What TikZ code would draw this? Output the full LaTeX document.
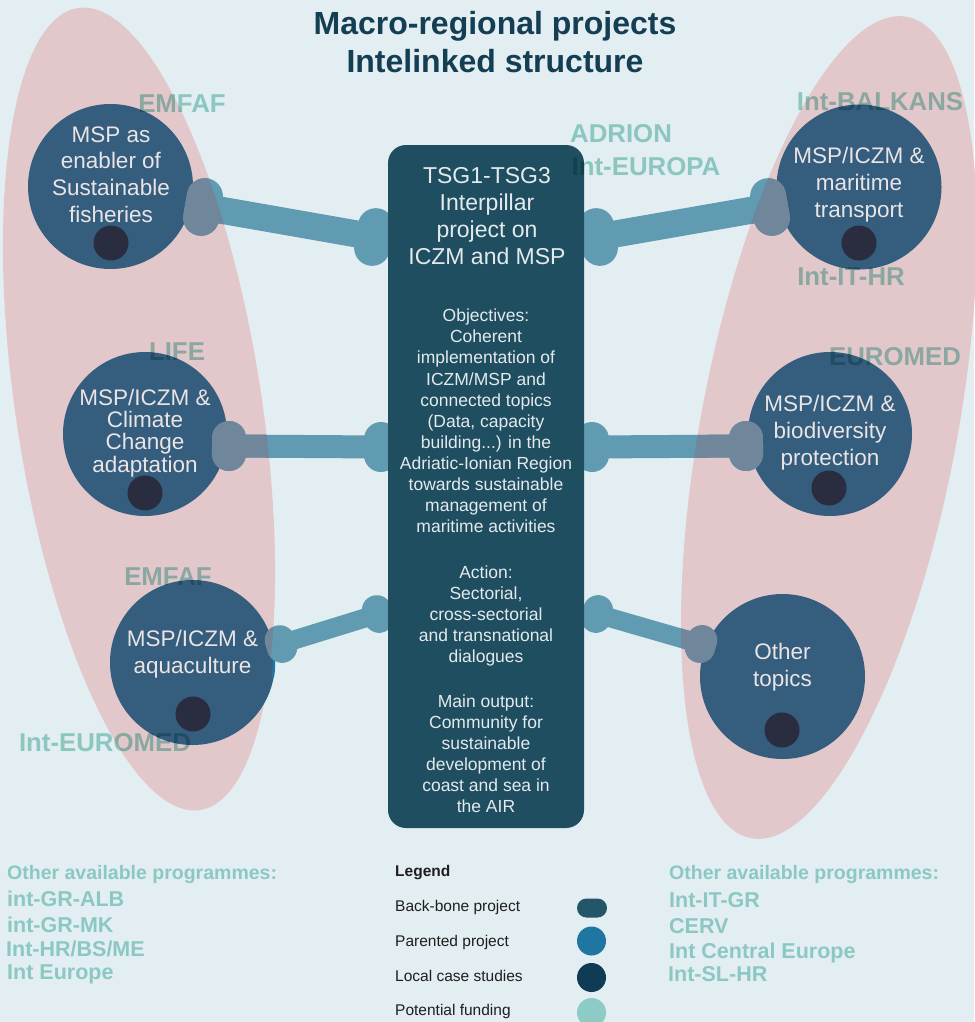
\documentclass[tikz,border=0pt]{standalone}
\usepackage{fontspec}
\setmainfont{Liberation Sans}
\usetikzlibrary{calc}
\definecolor{bg}{HTML}{E2EEF1}
\definecolor{ell}{HTML}{E2C8CB}
\definecolor{boxc}{HTML}{1F4E61}
\definecolor{circ}{HTML}{345D7E}
\definecolor{dotc}{HTML}{2A2C40}
\definecolor{barc}{HTML}{609BB2}
\definecolor{barg}{HTML}{70869A}
\definecolor{lblc}{HTML}{9DD5CB}
\definecolor{lstc}{HTML}{8CC8C3}
\definecolor{titlec}{HTML}{143E53}
\definecolor{ctext}{HTML}{EAE4E4}
\definecolor{btext}{HTML}{E4EAEC}
\definecolor{parc}{HTML}{1F76A0}
\definecolor{locc}{HTML}{0F3B55}
\definecolor{potc}{HTML}{8CCBC6}
\definecolor{bbc}{HTML}{245669}
\definecolor{legc}{HTML}{1E1E1E}
\newcommand\bonebar[6]{%
  \draw[#1, line width=#4] (#2) -- (#3);
  \draw[#1, line width=#5, line cap=round] ($(#2)!#6!90:(#3)$) -- ($(#2)!#6!-90:(#3)$);
  \draw[#1, line width=#5, line cap=round] ($(#3)!#6!90:(#2)$) -- ($(#3)!#6!-90:(#2)$);
}
\newcommand\allbones[1]{%
  \bonebar{#1}{kL1c}{kL1b}{27pt}{36pt}{11pt}
  \bonebar{#1}{kR1c}{kR1b}{27pt}{36pt}{11pt}
  \bonebar{#1}{kL2c}{kL2b}{23pt}{34pt}{8pt}
  \bonebar{#1}{kR2c}{kR2b}{23pt}{34pt}{8pt}
  \bonebar{#1}{kL3c}{kL3b}{19pt}{30pt}{4pt}
  \bonebar{#1}{kR3c}{kR3b}{19pt}{30pt}{4pt}
}
\begin{document}
\begin{tikzpicture}[x=1pt,y=-1pt,
  topic/.style={circle, fill=circ, minimum size=165pt, inner sep=0pt},
  dotn/.style={circle, fill=dotc, minimum size=35pt, inner sep=0pt},
  ctxt/.style={text=ctext, align=center, inner sep=0pt, font=\fontsize{22.5}{27}\selectfont},
  btxt/.style={text=btext, align=center, inner sep=0pt, font=\fontsize{17.5}{21.1}\selectfont},
  lbl/.style={text=lblc, inner sep=0pt, font=\bfseries\fontsize{25.8}{30}\selectfont},
  lst/.style={text=lstc, inner sep=0pt, anchor=base west, font=\bfseries\fontsize{21.5}{25}\selectfont},
  lsthead/.style={text=lstc, inner sep=0pt, anchor=base west, font=\bfseries\fontsize{19.5}{23}\selectfont},
  legt/.style={text=legc, inner sep=0pt, anchor=base west, font=\fontsize{15.5}{18}\selectfont},
  sw/.style={circle, minimum size=29pt, inner sep=0pt}
]
\useasboundingbox (0,0) rectangle (974,1022);
\fill[bg] (0,0) rectangle (974,1022);

% ellipses
\fill[ell, rotate around={8.65:(139,409)}] (139,409) ellipse (123 and 405.6);
\fill[ell, rotate around={-10.76:(829,427.5)}] (829,427.5) ellipse (128 and 418);

% topic circles
\node[topic] (cL1) at (110.5,186.5) {};
\node[topic, minimum size=164pt] (cL2) at (145,434) {};
\node[topic] (cL3) at (192.5,662.5) {};
\node[topic] (cR1) at (859,187) {};
\node[topic, minimum size=164pt] (cR2) at (830,434) {};
\node[topic] (cR3) at (782.5,676.5) {};
\begin{scope}
  \clip (250,643) rectangle (280,677);
  \draw[parc, line width=2.5pt] (cL3.center) circle (81.5);
\end{scope}
\node[dotn] (dL1) at (111,243) {};
\node[dotn] (dL2) at (145,493) {};
\node[dotn] (dL3) at (193,714) {};
\node[dotn] (dR1) at (859,243) {};
\node[dotn] (dR2) at (829,488) {};
\node[dotn] (dR3) at (782,730) {};

% connector ends
\coordinate (kL1c) at (203,207);
\coordinate (kL1b) at (374,237);
\coordinate (kR1c) at (770,207);
\coordinate (kR1b) at (598,237);
\coordinate (kL2c) at (229,446);
\coordinate (kL2b) at (381,447);
\coordinate (kR2c) at (746,446);
\coordinate (kR2b) at (592,447);
\coordinate (kL3c) at (281,644);
\coordinate (kL3b) at (378,614);
\coordinate (kR3c) at (701,644);
\coordinate (kR3b) at (597,614);

\allbones{barc}
\begin{scope}
  \clip[rotate around={8.65:(139,409)}] (139,409) ellipse (123 and 405.6);
  \allbones{barg}
\end{scope}
\begin{scope}
  \clip[rotate around={-10.76:(829,427.5)}] (829,427.5) ellipse (128 and 418);
  \allbones{barg}
\end{scope}

% central box
\node[fill=boxc, rounded corners=18pt, minimum width=196pt, minimum height=683pt, inner sep=0pt] (box) at (486,486.5) {};
\node[btxt, font=\fontsize{23}{27}\selectfont] (hdr) at (487,216.5) {TSG1-TSG3\\Interpillar\\project on\\ICZM and MSP};
\node[btxt] (obj) at (486,421) {Objectives:\\Coherent\\implementation of\\ICZM/MSP and\\connected topics\\(Data, capacity\\building...) in the\\Adriatic-Ionian Region\\towards sustainable\\management of\\maritime activities};
\node[btxt, font=\fontsize{17.5}{20.8}\selectfont] (act) at (486,616) {Action:\\Sectorial,\\cross-sectorial\\and transnational\\dialogues};
\node[btxt] (out) at (486,753.5) {Main output:\\Community for\\sustainable\\development of\\coast and sea in\\the AIR};

% circle texts
\node[ctxt, font=\fontsize{22.5}{26.7}\selectfont] (tL1) at (111,174.5) {MSP as\\enabler of\\Sustainable\\fisheries};
\node[ctxt, font=\fontsize{22.5}{22.2}\selectfont] (tL2) at (145,433) {MSP/ICZM \&\\Climate\\Change\\adaptation};
\node[ctxt] (tL3) at (192.5,654) {MSP/ICZM \&\\aquaculture};
\node[ctxt] (tR1) at (859,184.5) {MSP/ICZM \&\\maritime\\transport};
\node[ctxt] (tR2) at (830,433) {MSP/ICZM \&\\biodiversity\\protection};
\node[ctxt] (tR3) at (782.5,667) {Other\\topics};

% title
\node[text=titlec, align=center, inner sep=0pt, font=\bfseries\fontsize{32}{38}\selectfont] (title) at (495,42) {Macro-regional projects\\Intelinked structure};

% funding labels
\begin{scope}[blend mode=multiply]
\node[lbl] (fL1) at (182,104) {EMFAF};
\node[lbl] (fL2) at (177,352) {LIFE};
\node[lbl] (fL3) at (168,577) {EMFAF};
\node[lbl] (fL4) at (105,743) {Int-EUROMED};
\node[lbl] (fC1) at (621,134) {ADRION};
\node[lbl] (fC2) at (646,167) {Int-EUROPA};
\node[lbl] (fR1) at (880,102) {Int-BALKANS};
\node[lbl] (fR2) at (851,277) {Int-IT-HR};
\node[lbl] (fR3) at (895,357) {EUROMED};
\end{scope}

% other programmes
\node[lsthead] (oL) at (7,879) {Other available programmes:};
\node[lst] (oL1) at (7,906.7) {int-GR-ALB};
\node[lst] (oL2) at (7,932.3) {int-GR-MK};
\node[lst] (oL3) at (6,956.7) {Int-HR/BS/ME};
\node[lst] (oL4) at (7,979.3) {Int Europe};
\node[lsthead] (oR) at (669,879) {Other available programmes:};
\node[lst] (oR1) at (669,907.3) {Int-IT-GR};
\node[lst] (oR2) at (669,933.3) {CERV};
\node[lst] (oR3) at (669,958.3) {Int Central Europe};
\node[lst] (oR4) at (668,981) {Int-SL-HR};

% legend
\node[legt, font=\bfseries\fontsize{15.5}{18}\selectfont] (legend) at (395,876) {Legend};
\node[legt] (lg1) at (395,911) {Back-bone project};
\node[legt] (lg2) at (395,946) {Parented project};
\node[legt] (lg3) at (395,981) {Local case studies};
\node[legt] (lg4) at (395,1015) {Potential funding};
\node[fill=bbc, rounded corners=9.5pt, minimum width=30pt, minimum height=19pt, inner sep=0pt] (s1) at (592,908) {};
\node[sw, fill=parc] (s2) at (591.5,941) {};
\node[sw, fill=locc] (s3) at (591.5,977.5) {};
\node[sw, fill=potc] (s4) at (591.5,1012.5) {};
\end{tikzpicture}
\end{document}
